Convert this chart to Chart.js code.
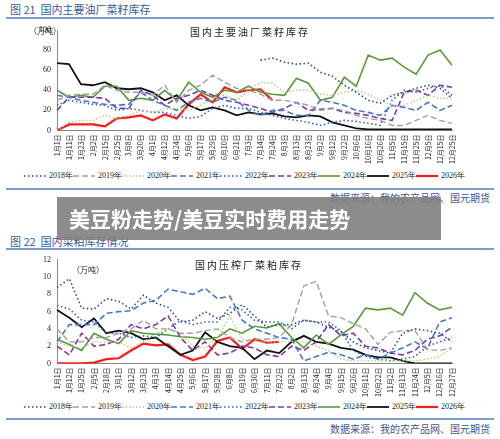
<!DOCTYPE html>
<html>
<head>
<meta charset="utf-8">
<script src="https://cdn.jsdelivr.net/npm/chart.js@4.4.0/dist/chart.umd.min.js"></script>
<style>
body { margin: 0; width: 500px; height: 439px; background: #fff; position: relative; overflow: hidden; font-family: "Noto Sans CJK SC", sans-serif; }
.hd { position: absolute; left: 10px; font-size: 11px; color: #3a5a9a; }
.rule { position: absolute; left: 6px; width: 488px; height: 2px; background: #7d9bd0; }
.src { position: absolute; right: 10px; font-size: 10px; color: #3a5a9a; }
.box { position: absolute; left: 0; width: 500px; }
.ttl { position: absolute; font-size: 10px; color: #222; letter-spacing: 2px; }
.unit { position: absolute; font-size: 8px; color: #222; }
.leg { position: absolute; left: 24px; width: 440px; display: flex; justify-content: space-between; font-family: "Liberation Serif", serif; font-size: 8px; color: #222; }
.leg span { display: flex; align-items: center; white-space: nowrap; }
.leg svg { margin-right: 3px; }
#banner { position: absolute; left: 57px; top: 197px; width: 384px; height: 43px; background: rgba(128,128,128,0.9); color: #fff; font-weight: bold; font-size: 21px; line-height: 43px; padding-left: 12px; box-sizing: border-box; }
</style>
</head>
<body>
<div class="hd" style="top:1px">图 21 &nbsp;国内主要油厂菜籽库存</div>
<div class="rule" style="top:17px"></div>
<div class="box" style="top:22px;height:143px"><canvas id="c1"></canvas></div>
<div class="ttl" style="left:190px;top:24px">国内主要油厂菜籽库存</div>
<div class="unit" style="left:29px;top:25px">（万吨）</div>
<div class="leg" id="leg1" style="top:170px"></div>
<div class="rule" style="top:188px"></div>
<div class="src" style="top:190px">数据来源：我的农产品网、国元期货</div>

<div class="hd" style="top:233px">图 22 &nbsp;国内菜粕库存情况</div>
<div class="rule" style="top:248px"></div>
<div class="box" style="top:252px;height:146px"><canvas id="c2"></canvas></div>
<div class="ttl" style="left:195px;top:257px">国内压榨厂菜粕库存</div>
<div class="unit" style="left:72px;top:264px">（万吨）</div>
<div class="leg" id="leg2" style="top:401px"></div>
<div class="rule" style="top:418px"></div>
<div class="src" style="top:421px">数据来源：我的农产品网、国元期货</div>

<div id="banner">美豆粉走势/美豆实时费用走势</div>

<script>
// 图21 横轴
const labels1 = ['1月1日','1月11日','1月23日','2月2日','2月15日','2月25日','3月8日','3月20日','4月1日','4月12日','4月24日','5月6日','5月17日','5月29日','6月10日','6月21日','7月3日','7月14日','7月24日','8月3日','8月13日','8月23日','9月2日','9月12日','9月22日','10月6日','10月16日','10月26日','11月5日','11月15日','11月25日','12月5日','12月15日','12月25日'];
const s1_2018 = [null,null,null,null,null,null,null,null,null,null,null,null,null,null,null,null,null,70,72,68,66,67,58,54,45,38,30,27,35,38,42,45,42,32];
const s1_2019 = [30,35,36,36,45,40,38,38,35,45,28,40,45,55,48,42,40,36,30,30,28,25,20,22,20,15,12,10,5,5,10,15,10,7];
const s1_2020 = [0,8,10,10,15,12,15,20,18,22,22,20,25,32,35,30,40,48,47,38,40,40,36,35,38,40,36,30,25,25,30,35,32,32];
const s1_2021 = [35,33,30,28,26,25,26,38,30,25,20,28,32,28,33,30,20,15,20,20,15,15,30,28,25,20,18,15,25,23,20,28,20,25];
const s1_2022 = [25,30,28,26,25,20,22,20,18,18,15,12,14,22,25,22,22,18,15,12,10,8,5,8,10,9,7,5,30,40,38,42,45,35];
const s1_2023 = [20,33,33,33,32,22,22,40,35,25,32,35,40,35,30,28,25,22,18,22,28,20,21,22,18,17,15,12,10,38,40,35,45,43];
const s1_2024 = [40,33,35,33,44,44,30,32,30,40,30,48,38,33,40,38,44,38,36,35,52,47,30,33,53,44,75,70,72,63,56,75,80,65];
const s1_2025 = [67,66,46,45,48,42,41,42,38,30,35,25,20,23,20,15,18,16,17,14,13,15,14,8,5,2,1,1,1,1,1,1,1,1];
const s1_2026 = [0,6,6,6,4,12,13,15,10,16,12,26,36,28,43,38,40,41,30];

// 图22 横轴
const labels2 = ['1月1日','1月12日','1月25日','2月5日','2月18日','3月1日','3月12日','3月23日','4月3日','4月14日','4月25日','5月6日','5月17日','5月28日','6月8日','6月19日','6月30日','7月11日','7月22日','8月2日','8月13日','8月24日','9月4日','9月15日','9月26日','10月11日','10月22日','11月2日','11月13日','11月24日','12月5日','12月16日','12月27日'];
const s2_2018 = [8.8,9.8,6.4,6.3,7.5,7.2,6.3,7.9,7.0,6.5,4.8,5.0,6.0,5.2,5.8,6.8,5.5,4.2,4.5,4.5,5.0,4.8,4.2,3.7,2.5,1.8,1.5,1.2,3.5,4.0,3.8,3.5,2.5];
const s2_2019 = [4.0,2.5,2.5,3.0,3.0,3.5,4.0,5.0,4.0,4.0,3.5,3.5,3.8,4.0,3.0,2.5,2.8,2.8,3.0,4.5,9.0,9.5,5.5,5.3,4.6,4.0,2.2,3.6,3.8,3.8,1.6,1.5,1.8];
const s2_2020 = [2.5,2.0,1.8,2.5,2.5,2.5,1.8,2.5,3.5,4.0,3.5,2.0,1.8,3.0,5.5,2.8,2.5,2.5,2.5,2.5,2.5,2.0,1.5,0.5,0.3,0.3,0.3,0.3,0.3,0.3,0.5,0.8,1.8];
const s2_2021 = [2.5,4.5,4.5,4.5,5.8,6.0,6.1,7.0,7.3,8.6,8.3,8.0,8.7,7.5,7.8,5.0,4.0,3.5,3.0,2.8,0.3,0.8,1.3,1.0,0.5,1.0,0.5,1.2,1.8,2.5,1.7,4.8,5.3];
const s2_2022 = [6.7,6.3,5.0,4.8,3.5,3.5,3.0,3.2,3.0,4.0,5.0,4.5,4.8,4.8,6.5,6.2,5.0,4.8,4.8,4.0,5.0,4.8,4.8,3.8,1.5,0.8,0.5,0.3,0.5,0.8,2.0,2.5,3.0];
const s2_2023 = [2.0,1.0,3.5,2.0,2.2,2.8,4.5,4.0,4.5,5.5,3.0,1.5,2.5,1.0,1.2,2.0,1.8,1.0,0.8,2.0,1.5,2.5,4.5,3.2,3.5,2.0,1.8,1.2,1.0,1.5,2.8,3.2,4.2];
const s2_2024 = [2.8,2.2,1.5,3.5,2.8,2.3,3.8,3.5,3.4,3.3,3.1,3.0,2.8,3.0,4.0,3.5,4.3,4.1,4.6,3.0,1.8,3.3,2.2,3.3,4.3,6.4,6.2,6.4,5.6,8.2,7.0,6.2,6.5];
const s2_2025 = [6.2,5.3,4.2,5.2,3.5,3.8,3.5,2.8,3.0,2.0,1.0,1.5,3.6,2.5,2.0,1.8,0.5,1.5,1.2,2.5,3.2,2.5,2.3,1.8,1.6,1.0,0.7,0.7,0.3,0,0,0,0];
const s2_2026 = [0,0,0,0.1,0.5,0.6,1.5,2.3,2.1,2.2,1.0,0.4,0.8,2.6,3.0,1.7,2.8,2.4,2.5];

// 年份样式
const yearStyles = [
    ['2018年', '#2f4a8a', [1.5, 2.5], 1.6],
    ['2019年', '#a0a0a0', [6, 3], 1.4],
    ['2020年', '#b5cf7a', [1.5, 2], 1.4],
    ['2021年', '#4a78c8', [6, 3], 1.6],
    ['2022年', '#3060b8', [1.5, 2.5], 1.6],
    ['2023年', '#7a3aa8', [6, 3], 1.6],
    ['2024年', '#5a9a3a', [], 1.6],
    ['2025年', '#111111', [], 1.8],
    ['2026年', '#ff1a1a', [], 2.2]
];

// 图例（HTML，一行）
function buildLegend(id) {
    document.getElementById(id).innerHTML = yearStyles.map(s =>
        `<span><svg width="22" height="6"><line x1="0" y1="3" x2="22" y2="3" stroke="${s[1]}" stroke-width="${s[3]}" stroke-dasharray="${s[2].join(' ')}"/></svg>${s[0]}</span>`
    ).join('');
}

function buildChart(id, labels, series, yMax, yStep, pad) {
    const datasets = series.map((data, i) => ({
        label: yearStyles[i][0],
        data: data,
        borderColor: yearStyles[i][1],
        backgroundColor: yearStyles[i][1],
        borderDash: yearStyles[i][2],
        borderWidth: yearStyles[i][3],
        pointRadius: 0,
        tension: 0
    }));
    const tickFont = { family: 'Liberation Serif', size: 8 };
    return new Chart(document.getElementById(id), {
        type: 'line',
        data: { labels: labels, datasets: datasets },
        options: {
            responsive: true,
            maintainAspectRatio: false,
            animation: false,
            layout: { padding: pad },
            plugins: { tooltip: { enabled: false }, legend: { display: false } },
            scales: {
                x: {
                    grid: { display: false, tickLength: 3 },
                    border: { color: '#888' },
                    ticks: { autoSkip: false, minRotation: 90, maxRotation: 90, color: '#222', font: { family: 'Noto Sans CJK SC', size: 7 }, padding: 1 }
                },
                y: {
                    min: 0, max: yMax,
                    grid: { display: false, tickLength: 3 },
                    border: { color: '#888' },
                    ticks: { stepSize: yStep, color: '#222', font: tickFont }
                }
            }
        }
    });
}

buildLegend('leg1');
buildLegend('leg2');
buildChart('c1', labels1, [s1_2018, s1_2019, s1_2020, s1_2021, s1_2022, s1_2023, s1_2024, s1_2025, s1_2026], 100, 20, { left: 36, right: 48, top: 8, bottom: 0 });
buildChart('c2', labels2, [s2_2018, s2_2019, s2_2020, s2_2021, s2_2022, s2_2023, s2_2024, s2_2025, s2_2026], 12, 2, { left: 40, right: 48, top: 6, bottom: 0 });
</script>
</body>
</html>
